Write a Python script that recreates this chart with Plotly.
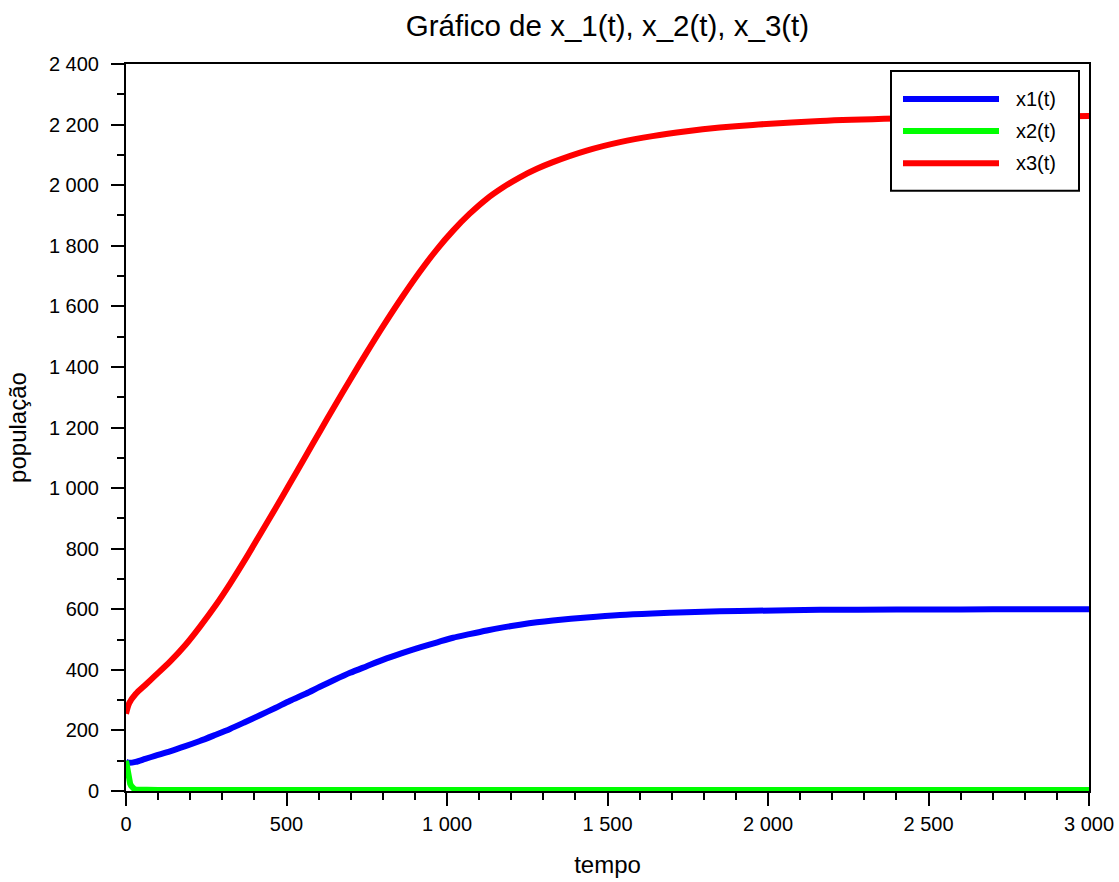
import plotly.graph_objects as go

# ---- data ----
t = [0, 10, 30, 60, 90, 137, 185, 230, 280, 324, 370, 417, 465, 511, 560, 604,
     650, 698, 750, 800, 860, 916, 970, 1019, 1070, 1124, 1175, 1227, 1280, 1330,
     1435, 1539, 1640, 1747, 1850, 1953, 2162, 2400, 2600, 2800, 3000]
x1 = [97, 93, 96, 106, 116, 131, 148, 165, 186, 205, 227, 250, 274, 298, 321, 344,
      367, 390, 412, 433, 455, 474, 491, 506, 518, 530, 540, 549, 557, 563,
      573, 581, 586, 590, 593, 595, 598, 599, 599.5, 600, 600]
x3 = [255, 290, 320, 350, 380, 427, 482, 542, 614, 684, 762, 846, 932, 1016, 1106, 1187,
      1271, 1357, 1448, 1533, 1630, 1715, 1790, 1850, 1905, 1955, 1993, 2026, 2054, 2076,
      2114, 2142, 2162, 2178, 2190, 2199, 2212, 2220, 2224, 2226, 2228]
t2 = [0, 2, 4, 6, 8, 10, 13, 16, 20, 25, 30, 40, 60, 100, 200, 500, 1000, 2000, 3000]
x2 = [100, 85, 68, 54, 43, 34, 24, 17, 11, 7, 5, 4, 3, 3, 3, 3, 3, 3, 3]

names = ["x1(t)", "x2(t)", "x3(t)"]
colors = ["#0000FF", "#00FF00", "#FF0000"]
title_text = "Gráfico de x_1(t), x_2(t), x_3(t)"
xlabel = "tempo"
ylabel = "população"

FONT = "Liberation Sans, Arial, Helvetica, sans-serif"

# body margin is removed in the page (post_script), so the figure fills the window
FIG_W, FIG_H = 1119, 882
plot_l, plot_r, plot_t, plot_b = 126, 1089, 64, 791

fig = go.Figure()
fig.add_trace(go.Scatter(x=t, y=x1, mode="lines", name=names[0],
                         line=dict(color=colors[0], width=6, shape="spline", smoothing=0.8),
                         showlegend=False))
fig.add_trace(go.Scatter(x=t2, y=x2, mode="lines", name=names[1],
                         line=dict(color=colors[1], width=6),
                         showlegend=False))
fig.add_trace(go.Scatter(x=t, y=x3, mode="lines", name=names[2],
                         line=dict(color=colors[2], width=6, shape="spline", smoothing=0.8),
                         showlegend=False))

# ---- legend box (drawn like the reference: long line samples) ----
W = plot_r - plot_l
H = plot_b - plot_t
def px(xp):
    return (xp - plot_l) / W
def py(yp):
    return (plot_b - yp) / H

fig.add_shape(type="rect", xref="paper", yref="paper",
              x0=px(891), x1=px(1079), y0=py(190.7), y1=py(71),
              line=dict(color="black", width=2), fillcolor="white", layer="above")
for i, yy in enumerate([99, 131, 163.3]):
    fig.add_shape(type="line", xref="paper", yref="paper",
                  x0=px(903), x1=px(999), y0=py(yy), y1=py(yy),
                  line=dict(color=colors[i], width=6), layer="above")
    fig.add_annotation(xref="paper", yref="paper", x=px(1014), y=py(yy),
                       text=names[i], showarrow=False, xanchor="left", yanchor="middle",
                       font=dict(family=FONT, size=20, color="black"))

axis_common = dict(
    showgrid=False, zeroline=False,
    showline=True, linecolor="black", linewidth=2, mirror=True,
    ticks="outside", ticklen=13, tickwidth=2, tickcolor="black",
    tickfont=dict(family=FONT, size=20, color="black"),
    tickformat=",d",
)

fig.update_xaxes(range=[0, 3000], dtick=500, tick0=0,
                 minor=dict(dtick=100, ticks="outside", ticklen=7, tickwidth=2, tickcolor="black"),
                 title=dict(text=xlabel, font=dict(family=FONT, size=24, color="black"), standoff=22),
                 ticklabelstandoff=1,
                 **axis_common)
fig.update_yaxes(range=[0, 2400], dtick=200, tick0=0,
                 minor=dict(dtick=100, ticks="outside", ticklen=7, tickwidth=2, tickcolor="black"),
                 title=dict(text=ylabel, font=dict(family=FONT, size=24, color="black"), standoff=16),
                 ticklabelstandoff=8,
                 **axis_common)

fig.update_layout(
    width=FIG_W, height=FIG_H,
    margin=dict(l=plot_l, r=FIG_W - plot_r, t=plot_t, b=FIG_H - plot_b, autoexpand=False),
    paper_bgcolor="white", plot_bgcolor="white",
    separators=". ",
    font=dict(family=FONT, color="black"),
    title=dict(text=title_text, x=0.5, xref="paper", xanchor="center",
               y=1 - 26 / FIG_H, yref="container", yanchor="middle",
               font=dict(family=FONT, size=29.5, color="black")),
)

fig.write_html(
    "out.html",
    config={"displayModeBar": False},
    post_script="document.body.style.margin='0';document.body.style.overflow='hidden';",
)
